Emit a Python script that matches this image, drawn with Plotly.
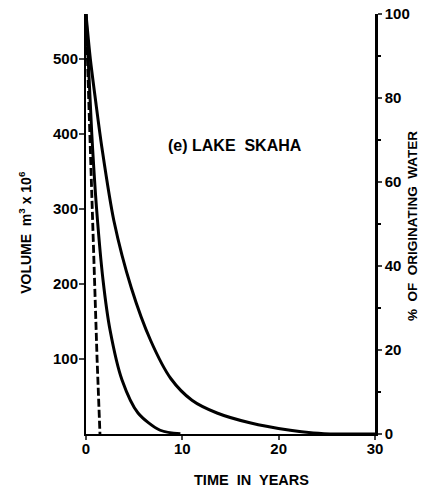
import plotly.graph_objects as go

# Curve A (slow outer curve) - volume m3 x 10^6 vs time in years
a_t = [0, 0.45, 1.0, 1.66, 2.9, 4.7, 6.7, 8.8, 11.0, 13.6, 17.0, 21.2, 23.6, 26.0, 30.0]
a_v = [560, 500, 444, 381, 284, 195, 125, 74, 45, 28, 15, 5, 1.5, 0, 0]

# Curve B (fast inner curve)
b_t = [0, 0.6, 1.1, 1.77, 2.49, 3.74, 5.4, 7.7, 9.8]
b_v = [560, 400, 300, 205, 139, 72, 28, 5, 0.5]

# Dashed curve C
c_t = [0, 0.35, 0.65, 0.85, 1.15, 1.45]
c_v = [560, 420, 300, 205, 100, 0]

x_ticks = [0, 10, 20, 30]
y_ticks = [100, 200, 300, 400, 500]
y2_ticks = [0, 20, 40, 60, 80, 100]

FONT = "Liberation Sans"

fig = go.Figure()
fig.add_trace(go.Scatter(x=a_t, y=a_v, mode="lines", line=dict(color="black", width=3, shape="spline", smoothing=0.8), showlegend=False))
fig.add_trace(go.Scatter(x=b_t, y=b_v, mode="lines", line=dict(color="black", width=3, shape="spline", smoothing=0.8), showlegend=False))
fig.add_trace(go.Scatter(x=c_t, y=c_v, mode="lines", line=dict(color="black", width=2.8, dash="8px,3px"), showlegend=False))
# invisible trace for secondary axis
fig.add_trace(go.Scatter(x=[0, 30], y=[0, 100], yaxis="y2", mode="lines", line=dict(width=0), opacity=0, hoverinfo="skip", showlegend=False))

tickfont = dict(family=FONT, size=15, color="black", weight="bold")

# page body has an 8px default margin, so the figure is sized/offset to compensate
fig.update_layout(
    width=418, height=486,
    margin=dict(l=78, r=51, t=6, b=60),
    paper_bgcolor="white", plot_bgcolor="white",
    xaxis=dict(range=[0, 30], tickvals=x_ticks, ticks="outside", ticklen=4, tickwidth=2,
               showline=True, linewidth=2, linecolor="black", showgrid=False, zeroline=False,
               tickfont=tickfont, automargin=False, ticklabelstandoff=-4, ticklabeloverflow="allow"),
    yaxis=dict(range=[0, 560], tickvals=y_ticks, ticks="outside", ticklen=5, tickwidth=2,
               showline=True, linewidth=2, linecolor="black", showgrid=False, zeroline=False,
               tickfont=tickfont, automargin=False, ticklabelstandoff=-2, ticklabeloverflow="allow"),
    yaxis2=dict(range=[0, 100], tickvals=y2_ticks, overlaying="y", side="right", ticks="outside",
                ticklen=4, tickwidth=2, showline=True, linewidth=2.5, linecolor="black",
                showgrid=False, zeroline=False, tickfont=tickfont, automargin=False,
                ticklabelstandoff=0, ticklabeloverflow="allow",
                minor=dict(dtick=10, ticks="outside", ticklen=3, tickwidth=1.5, tickcolor="black")),
    annotations=[
        dict(text="(e) LAKE  SKAHA", x=0.516, y=0.688, xref="paper", yref="paper", showarrow=False,
             xanchor="center", yanchor="middle",
             font=dict(family=FONT, size=16, color="black", weight="bold")),
        dict(text="TIME  IN  YEARS", x=0.574, y=-0.11, xref="paper", yref="paper", showarrow=False,
             xanchor="center", yanchor="middle",
             font=dict(family=FONT, size=14.5, color="black", weight="bold")),
        dict(text="VOLUME  m<sup>3</sup> x 10<sup>6</sup>", x=-0.211, y=0.479, xref="paper", yref="paper",
             showarrow=False, textangle=-90, xanchor="center", yanchor="middle",
             font=dict(family=FONT, size=14, color="black", weight="bold")),
        dict(text="%  OF  ORIGINATING  WATER", x=1.128, y=0.495, xref="paper", yref="paper",
             showarrow=False, textangle=-90, xanchor="center", yanchor="middle",
             font=dict(family=FONT, size=13.5, color="black", weight="bold")),
    ],
)

fig.write_html("out.html")
